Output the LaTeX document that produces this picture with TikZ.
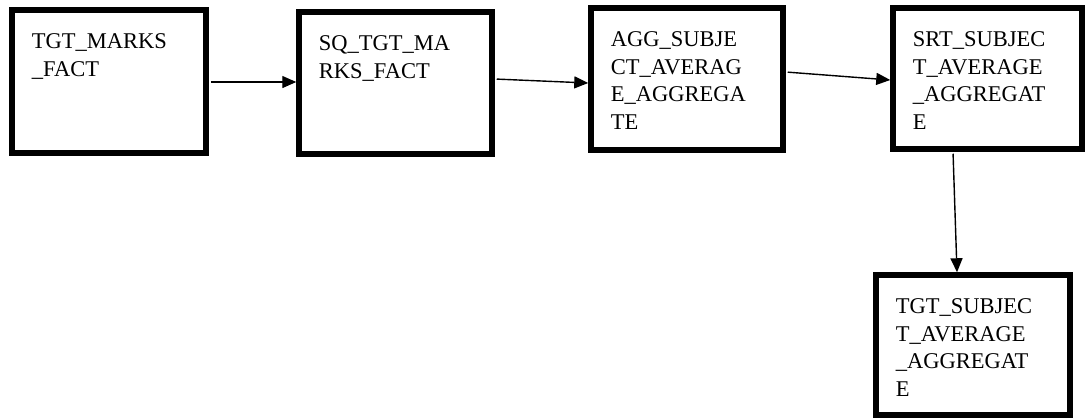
\documentclass[tikz,border=0pt]{standalone}
\usepackage{fontspec}
\setmainfont{Liberation Serif}
\usetikzlibrary{arrows.meta}
\begin{document}
\begin{tikzpicture}[x=1pt,y=1pt,
  tblbox/.style={draw=black,line width=5.5pt,rectangle,inner sep=0pt},
  tbltxt/.style={anchor=north west,inner sep=0pt,align=left,
    font=\fontsize{22.5}{27.7}\selectfont},
  conn/.style={line width=1.4pt,-{Triangle[length=14pt,width=12pt]},shorten <=2pt}]
\useasboundingbox (0,0) rectangle (1086,-418);
\node[tblbox,minimum width=194pt,minimum height=143pt] (b1) at (109,-81.5) {};
\node[tblbox,minimum width=193pt,minimum height=142pt] (b2) at (395.5,-83) {};
\node[tblbox,minimum width=192pt,minimum height=142pt] (b3) at (687,-79) {};
\node[tblbox,minimum width=189pt,minimum height=141pt] (b4) at (987.5,-78.5) {};
\node[tblbox,minimum width=194pt,minimum height=140pt] (b5) at (973,-345) {};
\node[tbltxt] (t1) at ([xshift=22.5pt,yshift=-26pt]b1.north west) {TGT\_MARKS\\\_FACT};
\node[tbltxt] (t2) at ([xshift=22.5pt,yshift=-26pt]b2.north west) {SQ\_TGT\_MA\\RKS\_FACT};
\node[tbltxt] (t3) at ([xshift=22.5pt,yshift=-26pt]b3.north west) {AGG\_SUBJE\\CT\_AVERAG\\E\_AGGREGA\\TE};
\node[tbltxt] (t4) at ([xshift=22.5pt,yshift=-26pt]b4.north west) {SRT\_SUBJEC\\T\_AVERAGE\\\_AGGREGAT\\E};
\node[tbltxt] (t5) at ([xshift=22.5pt,yshift=-26pt]b5.north west) {TGT\_SUBJEC\\T\_AVERAGE\\\_AGGREGAT\\E};
\draw[conn] ([yshift=-0.5pt]b1.east) -- ([yshift=1pt]b2.west);
\draw[conn] ([yshift=4pt]b2.east) -- ([yshift=-4pt]b3.west);
\draw[conn] ([yshift=7pt]b3.east) -- ([yshift=-1.5pt]b4.west);
\draw[conn] ([xshift=-34.5pt]b4.south) -- ([xshift=-16pt]b5.north);
\end{tikzpicture}
\end{document}
